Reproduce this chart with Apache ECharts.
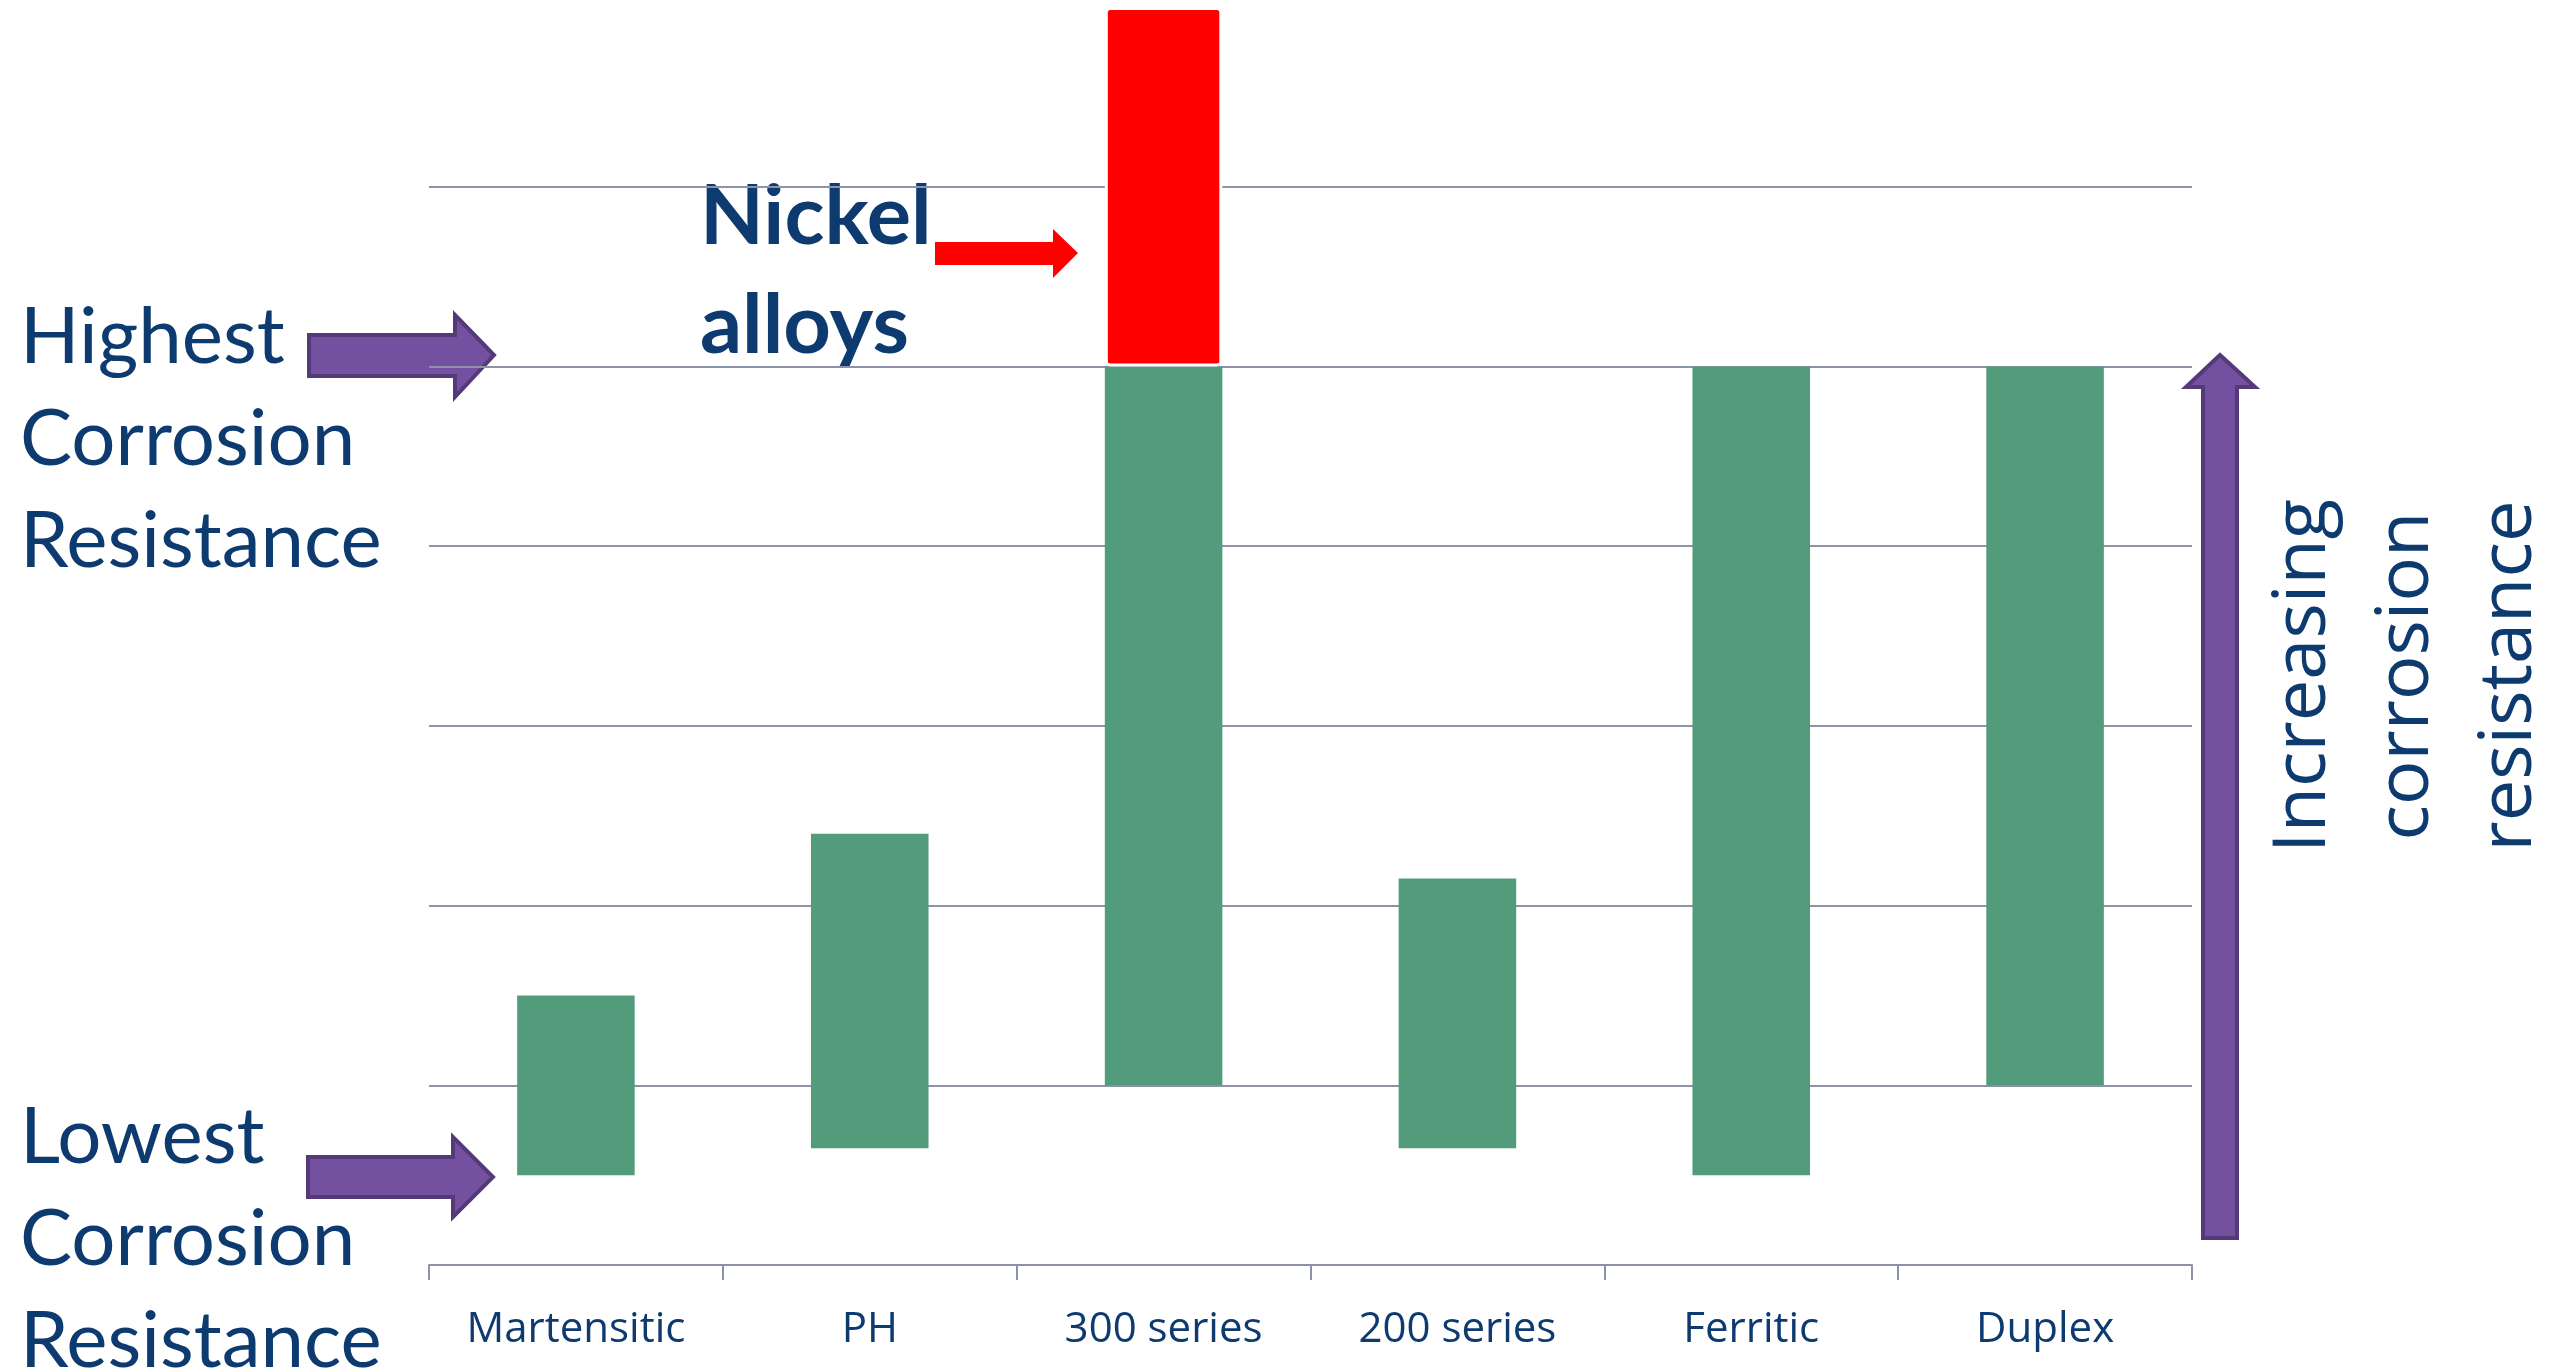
<!DOCTYPE html>
<html>
<head>
<meta charset="utf-8">
<title>Corrosion resistance</title>
<script src="https://cdn.jsdelivr.net/npm/echarts@6/dist/echarts.min.js"></script>
<style>
  html, body { margin: 0; padding: 0; background: #fff; }
  #main { width: 2567px; height: 1370px; }
</style>
</head>
<body>
<div id="main"></div>
<script>
  // stainless families, low/high ends of each floating bar (gridline units)
  const categories = ['Martensitic', 'PH', '300 series', '200 series', 'Ferritic', 'Duplex']
  const rangeLow = [0.5, 0.65, 1, 0.65, 0.5, 1]
  const rangeHigh = [1.5, 2.4, 5, 2.15, 5, 5]
  // nickel alloys sit on top of the 300 series bar
  const nickelHigh = [null, null, 7, null, null, null]
  const yTicks = [0, 1, 2, 3, 4, 5, 6, 7]

  const navy = '#0D3B70'
  const gridColor = '#8C93A8'
  const purple = '#7351A0'
  const purpleEdge = '#553A79'

  const greenSpan = rangeHigh.map((h, i) => h - rangeLow[i])
  const nickelSpan = nickelHigh.map((h, i) => (h == null ? '-' : h - rangeHigh[i]))

  const chart = echarts.init(document.getElementById('main'))

  const option = {
    animation: false,
    grid: { left: 429, right: 375, top: 7, bottom: 105 },
    xAxis: {
      type: 'category',
      data: categories,
      boundaryGap: true,
      axisLine: { lineStyle: { color: gridColor, width: 2 } },
      axisTick: { show: true, length: 15, interval: 0, lineStyle: { color: gridColor, width: 2 } },
      axisLabel: {
        margin: 44,
        color: navy,
        fontFamily: 'Open Sans',
        fontSize: 42,
        interval: 0,
      },
    },
    yAxis: {
      type: 'value',
      min: yTicks[0],
      max: yTicks[yTicks.length - 1],
      interval: 1,
      axisLine: { show: false },
      axisTick: { show: false },
      axisLabel: { show: false },
      splitLine: {
        show: true,
        showMaxLine: false,
        lineStyle: { color: gridColor, width: 2 },
      },
    },
    series: [
      {
        name: 'base',
        type: 'bar',
        stack: 'range',
        barWidth: '40%',
        silent: true,
        itemStyle: { color: 'transparent' },
        data: rangeLow,
      },
      {
        name: 'stainless',
        type: 'bar',
        stack: 'range',
        barWidth: '40%',
        itemStyle: { color: '#529B7B' },
        data: greenSpan,
      },
      {
        name: 'nickel',
        type: 'bar',
        stack: 'range',
        barWidth: '40%',
        itemStyle: { color: '#FF0000', borderColor: '#fff', borderWidth: 3, borderRadius: 4 },
        data: nickelSpan,
      },
    ],
    graphic: [
      // left captions
      {
        type: 'text',
        left: 20,
        top: 287,
        style: {
          text: 'Highest\nCorrosion\nResistance',
          fill: navy,
          font: '78px Lato',
          lineHeight: 102,
        },
      },
      {
        type: 'text',
        left: 20,
        top: 1087,
        style: {
          text: 'Lowest\nCorrosion\nResistance',
          fill: navy,
          font: '78px Lato',
          lineHeight: 102,
        },
      },
      {
        type: 'text',
        left: 700,
        top: 163,
        style: {
          text: 'Nickel\nalloys',
          fill: navy,
          font: 'bold 83px Lato',
          lineHeight: 109,
        },
      },
      // right caption, rotated
      {
        type: 'text',
        x: 2407,
        y: 676,
        rotation: Math.PI / 2,
        style: {
          text: 'Increasing\ncorrosion\nresistance',
          fill: navy,
          font: '74px "Open Sans"',
          lineHeight: 103,
          align: 'center',
          verticalAlign: 'middle',
        },
      },
      // arrows
      {
        type: 'polygon',
        shape: { points: [[309, 335], [455, 335], [455, 315], [494, 355], [455, 397], [455, 376], [309, 376]] },
        style: { fill: purple, stroke: purpleEdge, lineWidth: 4 },
      },
      {
        type: 'polygon',
        shape: { points: [[308, 1157], [453, 1157], [453, 1137], [493, 1177], [453, 1217], [453, 1197], [308, 1197]] },
        style: { fill: purple, stroke: purpleEdge, lineWidth: 4 },
      },
      {
        type: 'polygon',
        shape: { points: [[935, 242], [1053, 242], [1053, 229], [1078, 253], [1053, 278], [1053, 265], [935, 265]] },
        style: { fill: '#FF0000' },
      },
      {
        type: 'polygon',
        shape: { points: [[2203, 1238], [2203, 387], [2186, 387], [2220, 355], [2255, 387], [2237, 387], [2237, 1238]] },
        style: { fill: purple, stroke: purpleEdge, lineWidth: 4 },
      },
    ],
  }

  chart.setOption(option)
</script>
</body>
</html>
